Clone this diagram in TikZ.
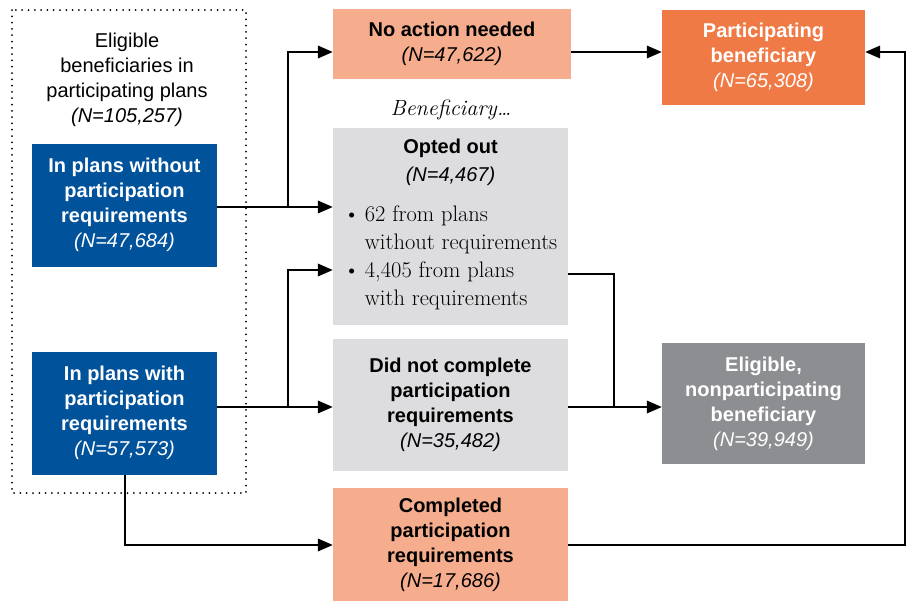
\documentclass[tikz,border=0pt]{standalone}
\usepackage{fontspec}
\setsansfont{Liberation Sans}
\usetikzlibrary{arrows.meta}

\definecolor{planblue}{RGB}{0,82,155}
\definecolor{salmon}{RGB}{246,173,142}
\definecolor{partorange}{RGB}{240,122,70}
\definecolor{lightgrey}{RGB}{221,221,223}
\definecolor{darkgrey}{RGB}{141,142,145}

\newcommand{\nn}[1]{{\normalfont\sffamily\itshape (N=#1)}}

\begin{document}
\begin{tikzpicture}[x=1pt, y=-1pt,
  every node/.style={font=\sffamily\fontsize{20}{25}\selectfont, align=center, inner sep=0pt},
  box/.style={font=\sffamily\bfseries\fontsize{20}{25}\selectfont},
  bluebox/.style={box, fill=planblue, text=white, minimum width=185pt, minimum height=123pt},
  greybox/.style={box, fill=lightgrey, minimum width=235pt},
  salmonbox/.style={box, fill=salmon, minimum width=235pt},
  flow/.style={line width=2pt, -{Triangle[length=15pt,width=12.5pt]}},
  link/.style={line width=2pt},
  dotframe/.style={line width=2pt, dash pattern=on 0pt off 6.3pt, line cap=round}]
  \useasboundingbox (0,0) rectangle (913,600);

  % eligible beneficiaries
  \draw[dotframe] (12,10) rectangle (246,493);
  \node (elig) at (127,80) {Eligible\\beneficiaries in\\participating plans\\\nn{105,257}};
  \node[bluebox] (nowo) at (124.5,205) {In plans without\\participation\\requirements\\\nn{47,684}};
  \node[bluebox] (withreq) at (124.5,413) {In plans with\\participation\\requirements\\\nn{57,573}};

  % what the beneficiary did
  \node[salmonbox, minimum width=238pt, minimum height=70pt] (noact) at (452,44) {No action needed\\\nn{47,622}};
  \node[font=\rmfamily\itshape\fontsize{22}{25}\selectfont] (bene) at (451,110) {Beneficiary\ldots};
  \node[greybox, minimum height=197pt] (opted) at (450.5,226.5) {Opted out\\[3pt]\nn{4,467}\\[15pt]
    {\rmfamily\mdseries\fontsize{22.5}{28}\selectfont
    \begin{tabular}[t]{@{}l@{\hspace{5pt}}l@{}}
      \textbullet & 62 from plans\\
                  & without requirements\\
      \textbullet & 4,405 from plans\\
                  & with requirements
    \end{tabular}}};
  \node[greybox, minimum height=132pt] (didnot) at (450.5,405) {Did not complete\\participation\\requirements\\\nn{35,482}};
  \node[salmonbox, minimum height=114pt] (compl) at (450.5,545) {Completed\\participation\\requirements\\\nn{17,686}};

  % outcomes
  \node[box, fill=partorange, text=white, minimum width=203pt, minimum height=95pt] (partic) at (763.5,57.5) {Participating\\beneficiary\\\nn{65,308}};
  \node[box, fill=darkgrey, text=white, minimum width=203pt, minimum height=121pt] (nonpart) at (763.5,403.5) {Eligible,\\nonparticipating\\beneficiary\\\nn{39,949}};

  \coordinate (splitA) at (288,207);
  \coordinate (topA) at (288,52);
  \coordinate (splitB) at (288,407);
  \coordinate (topB) at (288,270);
  \coordinate (joinC) at (614,274);
  \coordinate (joinD) at (614,407);
  \coordinate (farE) at (905,52);

  \draw[flow] (splitA -| nowo.east) -- (splitA -| opted.west);
  \draw[flow] (splitA) -- (topA) -- (topA -| noact.west);
  \draw[flow] (topA -| noact.east) -- (topA -| partic.west);
  \draw[flow] (splitB -| withreq.east) -- (splitB -| didnot.west);
  \draw[flow] (splitB) -- (topB) -- (topB -| opted.west);
  \draw[flow] (withreq.south) |- (compl.west);
  \draw[link] (joinC -| opted.east) -- (joinC) -- (joinD);
  \draw[flow] (joinD -| didnot.east) -- (joinD -| nonpart.west);
  \draw[flow] (compl.east) -| (farE) -- (farE -| partic.east);
\end{tikzpicture}
\end{document}
